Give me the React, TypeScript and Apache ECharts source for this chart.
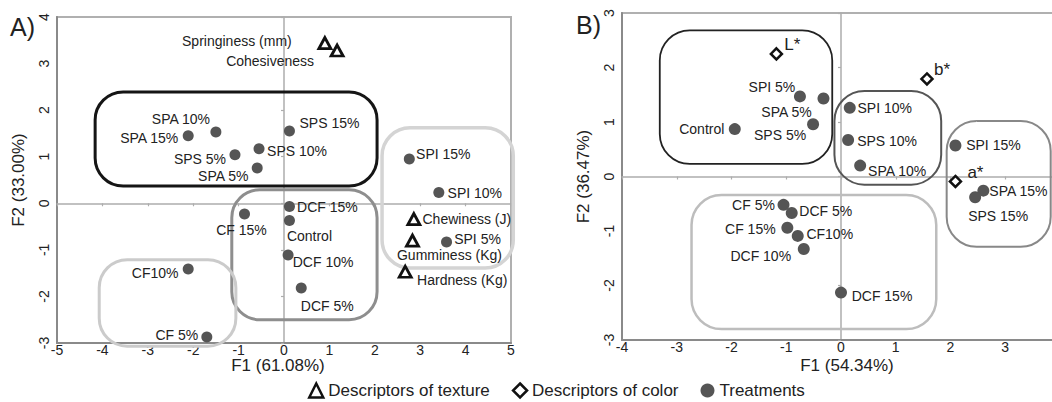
import { useEffect, useRef } from "react";
import * as echarts from "echarts";

// ---------- Panel A (texture PCA) ----------
const treatNamesA = ["SPA 15%", "SPA 10%", "SPS 5%", "SPA 5%", "SPS 10%", "SPS 15%", "SPI 15%", "SPI 10%", "SPI 5%", "DCF 15%", "Control", "DCF 10%", "DCF 5%", "CF 15%", "CF10%", "CF 5%"];
const treatF1A = [-2.11, -1.5, -1.08, -0.59, -0.55, 0.12, 2.76, 3.41, 3.58, 0.12, 0.12, 0.09, 0.38, -0.87, -2.11, -1.7];
const treatF2A = [1.45, 1.53, 1.04, 0.76, 1.17, 1.55, 0.95, 0.23, -0.83, -0.07, -0.37, -1.11, -1.82, -0.23, -1.41, -2.87];

const texNames = ["Springiness (mm)", "Cohesiveness", "Chewiness (J)", "Gumminess (Kg)", "Hardness (Kg)"];
const texF1 = [0.9, 1.17, 2.86, 2.83, 2.67];
const texF2 = [3.44, 3.28, -0.34, -0.8, -1.47];

// ---------- Panel B (color PCA) ----------
const treatNamesB = ["Control", "SPI 5%", "SPA 5%", "SPS 5%", "SPI 10%", "SPS 10%", "SPA 10%", "SPI 15%", "SPA 15%", "SPS 15%", "CF 5%", "DCF 5%", "CF 15%", "CF10%", "DCF 10%", "DCF 15%"];
const treatF1B = [-1.94, -0.75, -0.32, -0.51, 0.16, 0.13, 0.35, 2.09, 2.6, 2.45, -1.05, -0.9, -0.98, -0.79, -0.68, 0.0];
const treatF2B = [0.87, 1.47, 1.43, 0.96, 1.26, 0.67, 0.2, 0.57, -0.26, -0.38, -0.52, -0.67, -0.94, -1.09, -1.33, -2.13];

const colNames = ["L*", "b*", "a*"];
const colF1 = [-1.18, 1.57, 2.09];
const colF2 = [2.25, 1.79, -0.09];

// axis ranges / ticks
const xRangeA = [-5, 5];
const yRangeA = [-3, 4];
const xRangeB = [-4, 4];
const yRangeB = [-3, 3];
const axisTitles = ["F1 (61.08%)", "F2 (33.00%)", "F1 (54.34%)", "F2 (36.47%)"];
const legendNames = ["Descriptors of texture", "Descriptors of color", "Treatments"];

// group outlines (data coords: x0, x1, yTop, yBottom)
const groupsA = [
  [-4.16, 2.05, 2.39, 0.37],
  [2.16, 5.05, 1.62, -1.39],
  [-1.15, 2.05, 0.29, -2.5],
  [-4.07, -1.06, -1.21, -3.07],
];
const groupsB = [
  [-3.31, -0.16, 2.68, 0.23],
  [-0.12, 1.83, 1.57, -0.15],
  [1.93, 3.83, 1.02, -1.29],
  [-2.73, 1.74, -0.34, -2.8],
];

// label placement (text centre offset from marker, px)
const offTreatA = [[-39, 2], [-35, -13], [-35, 4], [-34, 8], [38, 2], [40, -8], [34, -5], [36, 0], [31, -3], [38, 0], [20, 15], [35, 7], [26, 18], [-3, 16], [-33, 4], [-30, -1.5]];
const offTex = [[-88, -2], [-67, 10], [53, 0], [37, 14], [57, 8]];
const offTreatB = [[-33, 0], [-28, -9], [-37, 13], [-33, 11], [35, 0], [39, 1], [37, 5], [38, 0], [35, 0], [23, 19], [-30, 0], [34, -2], [-37, 1], [32, -2], [-43, 7], [41, 3]];
const offCol = [[16, -9], [15, -9], [20, -9]];

const FONT = "'Liberation Sans', Arial, sans-serif";
const TXT = "#222";

function pts(names: string[], xs: number[], ys: number[], offs: number[][], size = 14) {
  return names.map((n, i) => ({
    name: n,
    value: [xs[i], ys[i]],
    label: { show: true, position: "inside", offset: offs[i], formatter: n, color: TXT, fontSize: size, fontFamily: FONT },
  }));
}

export default function App() {
  const ref = useRef<HTMLDivElement>(null);
  useEffect(() => {
    const chart = echarts.init(ref.current!, null, { renderer: "svg" });

    const crossX = (grid: number, r: number[]) => ({
      type: "value", gridIndex: grid, min: r[0], max: r[1], interval: 1,
      axisLine: { show: true, onZero: true, lineStyle: { color: "#adadad", width: 1.5 } },
      axisTick: { show: true, length: 3, lineStyle: { color: "#adadad", width: 1.2 } },
      axisLabel: { show: false }, splitLine: { show: false },
    });
    const frameX = (grid: number, r: number[], name: string, gap: number, pad: number[], showMax: boolean) => ({
      type: "value", gridIndex: grid, min: r[0], max: r[1], interval: 1, position: "bottom",
      axisLine: { show: true, onZero: false, lineStyle: { color: "#8a8a8a", width: 2 } },
      axisTick: { show: false },
      axisLabel: { show: true, fontSize: 14, color: TXT, fontFamily: FONT, margin: 0, showMaxLabel: showMax },
      splitLine: { show: false },
      name, nameLocation: "middle", nameGap: gap, nameMoveOverlap: false,
      nameTextStyle: { fontSize: 17, color: TXT, fontFamily: FONT, padding: pad },
    });
    const frameY = (grid: number, r: number[], name: string) => ({
      type: "value", gridIndex: grid, min: r[0], max: r[1], interval: 1, position: "left",
      axisLine: { show: true, onZero: false, lineStyle: { color: "#8a8a8a", width: 2 } },
      axisTick: { show: false },
      axisLabel: { show: true, fontSize: 14, color: TXT, fontFamily: FONT, margin: 6, rotate: 90 },
      splitLine: { show: false },
      name, nameLocation: "middle", nameGap: 30, nameMoveOverlap: false,
      nameTextStyle: { fontSize: 17, color: TXT, fontFamily: FONT },
    });

    const option: any = {
      animation: false,
      backgroundColor: "#fff",
      textStyle: { fontFamily: FONT },
      title: [
        { text: "A)", left: 10, top: 14, padding: 0, textStyle: { fontSize: 25, fontWeight: "normal", color: TXT, fontFamily: FONT } },
        { text: "B)", left: 576, top: 12, padding: 0, textStyle: { fontSize: 25, fontWeight: "normal", color: TXT, fontFamily: FONT } },
      ],
      grid: [
        { left: 57, top: 17, width: 454, height: 326, show: true, borderColor: "#b0b0b0", borderWidth: 2, outerBoundsMode: "none", containLabel: false },
        { left: 622, top: 13, width: 438, height: 327, show: true, borderColor: "#b0b0b0", borderWidth: 2, outerBoundsMode: "none", containLabel: false },
      ],
      xAxis: [
        crossX(0, xRangeA),
        frameX(0, xRangeA, axisTitles[0], 14, [0, 12, 0, 0], true),
        crossX(1, xRangeB),
        frameX(1, xRangeB, axisTitles[2], 17, [0, 0, 0, 12], false),
      ],
      yAxis: [
        { ...crossX(0, yRangeA) },
        frameY(0, yRangeA, axisTitles[1]),
        { ...crossX(1, yRangeB) },
        frameY(1, yRangeB, axisTitles[3]),
      ],
      legend: {
        left: 308, top: 382, padding: 0, itemWidth: 14, itemHeight: 14, itemGap: 22, selectedMode: false,
        textStyle: { fontSize: 17, color: TXT, fontFamily: FONT },
        data: [
          { name: legendNames[0], icon: "triangle", itemStyle: { color: "#fff", borderColor: "#111", borderWidth: 2.5 } },
          { name: legendNames[1], icon: "diamond", itemStyle: { color: "#fff", borderColor: "#111", borderWidth: 2.5 } },
          { name: legendNames[2], icon: "circle", itemStyle: { color: "#555", borderWidth: 0 } },
        ],
      },
      series: [
        {
          name: legendNames[2], type: "scatter", xAxisIndex: 0, yAxisIndex: 0, symbol: "circle", symbolSize: 11,
          itemStyle: { color: "#555", opacity: 1 }, data: pts(treatNamesA, treatF1A, treatF2A, offTreatA), z: 3,
        },
        {
          name: legendNames[0], type: "scatter", xAxisIndex: 0, yAxisIndex: 0, symbol: "triangle", symbolSize: [12, 11],
          itemStyle: { color: "#fff", borderColor: "#111", borderWidth: 2.8, opacity: 1 }, data: pts(texNames, texF1, texF2, offTex), z: 3,
        },
        {
          name: legendNames[2], type: "scatter", xAxisIndex: 2, yAxisIndex: 2, symbol: "circle", symbolSize: 12,
          itemStyle: { color: "#555", opacity: 1 }, data: pts(treatNamesB, treatF1B, treatF2B, offTreatB), z: 3,
        },
        {
          name: legendNames[1], type: "scatter", xAxisIndex: 2, yAxisIndex: 2, symbol: "diamond", symbolSize: 11,
          itemStyle: { color: "#fff", borderColor: "#111", borderWidth: 2.5, opacity: 1 }, data: pts(colNames, colF1, colF2, offCol, 17), z: 3,
        },
      ],
    };
    chart.setOption(option);

    const styleA = [
      { stroke: "#151515", lineWidth: 3 },
      { stroke: "#d4d4d4", lineWidth: 3.5 },
      { stroke: "#8e8e8e", lineWidth: 3 },
      { stroke: "#cbcbcb", lineWidth: 3 },
    ];
    const styleB = [
      { stroke: "#222", lineWidth: 1.8 },
      { stroke: "#555", lineWidth: 2 },
      { stroke: "#888", lineWidth: 2 },
      { stroke: "#bdbdbd", lineWidth: 2.5 },
    ];
    const mk = (g: number[], seriesIndex: number, st: any, r: number) => {
      const p0 = chart.convertToPixel({ seriesIndex }, [g[0], g[2]]) as number[];
      const p1 = chart.convertToPixel({ seriesIndex }, [g[1], g[3]]) as number[];
      return {
        type: "rect", z: 1, silent: true,
        shape: { x: p0[0], y: p0[1], width: p1[0] - p0[0], height: p1[1] - p0[1], r },
        style: { fill: "none", ...st },
      };
    };
    const graphics = [
      ...groupsA.map((g, i) => mk(g, 0, styleA[i], 28)),
      ...groupsB.map((g, i) => mk(g, 2, styleB[i], 30)),
    ];
    chart.setOption({ graphic: graphics });

    return () => chart.dispose();
  }, []);
  return <div ref={ref} style={{ position: "fixed", left: 0, top: 0, width: 1052, height: 402 }} />;
}
